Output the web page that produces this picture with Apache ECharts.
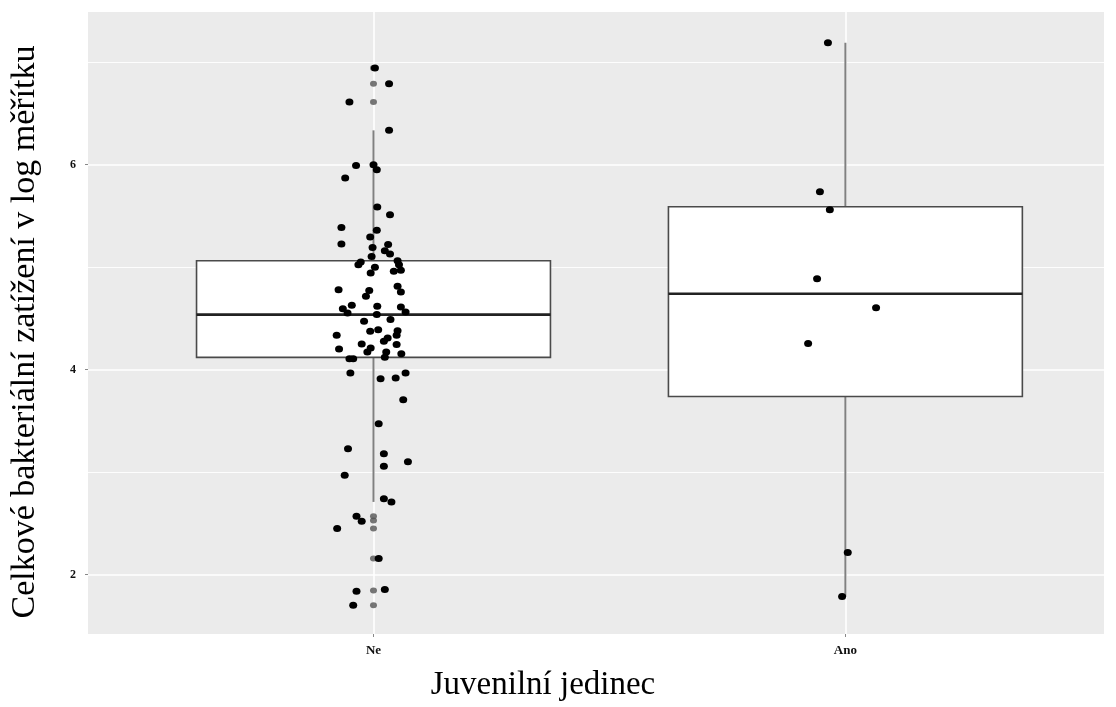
<!DOCTYPE html>
<html>
<head>
<meta charset="utf-8">
<script src="https://cdn.jsdelivr.net/npm/echarts@6/dist/echarts.min.js"></script>
<style>
  html, body { margin: 0; padding: 0; background: #fff; }
  #main { width: 1116px; height: 707px; }
</style>
</head>
<body>
<div id="main"></div>
<script>
// kategorie na ose x
var categories = ['Ne', 'Ano'];
// boxploty: [kategorie, dolni vous, Q1, median, Q3, horni vous]
var boxNe = [1, 2.709, 4.120, 4.537, 5.063, 6.335];
var boxAno = [2, 1.785, 3.737, 4.741, 5.590, 7.190];
// odlehle hodnoty (vykresleny na stredu kategorie)
var outliersNe = [6.943, 6.790, 6.612, 2.569, 2.527, 2.449, 2.156, 1.844, 1.700];
// jitter body: [posun od stredu kategorie, hodnota]
var pointsNe = [
  [0.003, 6.943], [0.033, 6.790], [-0.051, 6.612], [0.033, 6.335], [-0.037, 5.993],
  [0, 6.0], [0.007, 5.951], [-0.060, 5.870], [0.008, 5.587], [0.035, 5.512],
  [-0.068, 5.388], [0.007, 5.359], [-0.007, 5.295], [-0.068, 5.226], [-0.002, 5.193],
  [0.031, 5.220], [0.024, 5.161], [0.035, 5.129], [-0.004, 5.105], [-0.027, 5.051],
  [-0.032, 5.024], [0.051, 5.063], [0.054, 5.024], [0.003, 4.998], [0.043, 4.959],
  [0.058, 4.969], [-0.006, 4.943], [-0.074, 4.780], [-0.009, 4.771], [-0.016, 4.715],
  [0.051, 4.813], [0.058, 4.758], [-0.046, 4.627], [-0.065, 4.595], [-0.055, 4.553],
  [0.008, 4.618], [0.007, 4.537], [0.058, 4.612], [0.068, 4.563], [-0.020, 4.471],
  [0.036, 4.488], [-0.078, 4.335], [-0.007, 4.374], [0.010, 4.390], [0.051, 4.380],
  [0.049, 4.335], [0.030, 4.309], [0.022, 4.276], [-0.025, 4.251], [-0.073, 4.202],
  [-0.006, 4.212], [0.049, 4.244], [0.027, 4.173], [0.059, 4.156], [-0.013, 4.173],
  [-0.051, 4.107], [-0.043, 4.107], [0.024, 4.120], [-0.049, 3.968], [0.015, 3.912],
  [0.047, 3.919], [0.068, 3.968], [0.063, 3.707], [0.011, 3.473], [-0.054, 3.229],
  [0.022, 3.178], [0.022, 3.057], [0.073, 3.100], [-0.061, 2.969], [0.022, 2.739],
  [0.038, 2.709], [-0.036, 2.569], [-0.025, 2.520], [-0.077, 2.449], [0.011, 2.156],
  [-0.036, 1.837], [0.024, 1.854], [-0.043, 1.700]
];
var pointsAno = [
  [-0.037, 7.190], [-0.054, 5.737], [-0.033, 5.561], [-0.060, 4.888],
  [0.065, 4.605], [-0.079, 4.254], [0.005, 2.215], [-0.007, 1.785]
];
// mrizka a popisky osy y
var yMajorTicks = [2, 4, 6];
var yMinorTicks = [3, 5, 7];
var yRange = [1.42, 7.49];
var xRange = [0.395, 2.548];

var serif = '"Liberation Serif", "DejaVu Serif", serif';

function jitter(points, cat) {
  return points.map(function (p) { return [cat + p[0], p[1]]; });
}

var gridLines = [];
yMajorTicks.forEach(function (v) {
  gridLines.push({ yAxis: v, lineStyle: { color: '#fff', width: 1.6, type: 'solid' } });
});
yMinorTicks.forEach(function (v) {
  gridLines.push({ yAxis: v, lineStyle: { color: '#fff', width: 0.9, type: 'solid' } });
});
categories.forEach(function (c, i) {
  gridLines.push({ xAxis: i + 1, lineStyle: { color: '#fff', width: 1.6, type: 'solid' } });
});

function renderBox(params, api) {
  var x = api.value(0);
  var half = 0.375;
  var pLow = api.coord([x, api.value(1)]);
  var pQ1 = api.coord([x, api.value(2)]);
  var pMed = api.coord([x, api.value(3)]);
  var pQ3 = api.coord([x, api.value(4)]);
  var pHigh = api.coord([x, api.value(5)]);
  var left = api.coord([x - half, api.value(3)])[0];
  var right = api.coord([x + half, api.value(3)])[0];
  var whisker = { stroke: '#808080', lineWidth: 2, fill: null };
  return {
    type: 'group',
    children: [
      { type: 'line', shape: { x1: pHigh[0], y1: pHigh[1], x2: pQ3[0], y2: pQ3[1] }, style: whisker },
      { type: 'line', shape: { x1: pLow[0], y1: pLow[1], x2: pQ1[0], y2: pQ1[1] }, style: whisker },
      { type: 'rect', shape: { x: left, y: pQ3[1], width: right - left, height: pQ1[1] - pQ3[1] },
        style: { fill: '#fff', stroke: '#4a4a4a', lineWidth: 1.6 } },
      { type: 'line', shape: { x1: left, y1: pMed[1], x2: right, y2: pMed[1] },
        style: { stroke: '#222', lineWidth: 2.6 } }
    ]
  };
}

var chart = echarts.init(document.getElementById('main'));
chart.setOption({
  animation: false,
  backgroundColor: '#fff',
  grid: {
    left: 88, right: 12, top: 12, bottom: 73,
    show: true, backgroundColor: '#EBEBEB', borderWidth: 0
  },
  xAxis: {
    type: 'value',
    min: xRange[0], max: xRange[1],
    name: 'Juvenilní jedinec',
    nameLocation: 'middle',
    nameGap: 35,
    nameTextStyle: { fontFamily: serif, fontSize: 33, color: '#000', padding: [0, 106, 0, 0] },
    axisLine: { show: false },
    splitLine: { show: false },
    axisTick: { show: true, customValues: [1, 2], length: 3, lineStyle: { color: '#888' } },
    axisLabel: {
      customValues: [1, 2],
      formatter: function (v) { return categories[Math.round(v) - 1] || ''; },
      fontFamily: serif, fontWeight: 'bold', fontSize: 13, color: '#111', margin: 10
    }
  },
  yAxis: {
    type: 'value',
    min: yRange[0], max: yRange[1],
    name: 'Celkové bakteriální zatížení v log měřítku',
    nameLocation: 'middle',
    nameGap: 46,
    nameRotate: 90,
    nameTextStyle: { fontFamily: serif, fontSize: 34, color: '#000', padding: [0, 18, 0, 0] },
    axisLine: { show: false },
    splitLine: { show: false },
    axisTick: { show: true, customValues: yMajorTicks, length: 3, lineStyle: { color: '#888' } },
    axisLabel: {
      customValues: yMajorTicks,
      fontFamily: serif, fontWeight: 'bold', fontSize: 12, color: '#111', margin: 12
    }
  },
  series: [
    {
      type: 'scatter',
      data: [],
      silent: true,
      z: 1,
      markLine: {
        silent: true,
        z: 1,
        symbol: ['none', 'none'],
        label: { show: false },
        animation: false,
        data: gridLines
      }
    },
    {
      type: 'custom',
      renderItem: renderBox,
      data: [boxNe, boxAno],
      encode: { x: 0, y: [1, 2, 3, 4, 5] },
      silent: true,
      z: 3
    },
    {
      type: 'scatter',
      data: outliersNe.map(function (v) { return [1, v]; }),
      symbol: 'circle',
      symbolSize: [7, 6],
      itemStyle: { color: '#555' },
      silent: true,
      z: 4
    },
    {
      type: 'scatter',
      data: jitter(pointsNe, 1).concat(jitter(pointsAno, 2)),
      symbol: 'circle',
      symbolSize: [8, 7],
      itemStyle: { color: '#000', opacity: 1 },
      silent: true,
      z: 5
    }
  ]
});
</script>
</body>
</html>
